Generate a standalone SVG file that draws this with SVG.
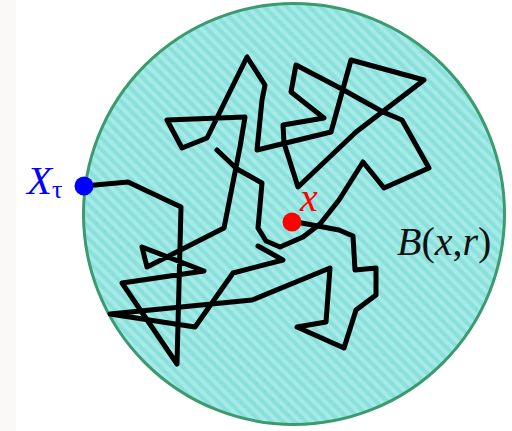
<svg xmlns="http://www.w3.org/2000/svg" width="512" height="431" viewBox="0 0 512 431">
  <defs>
    <pattern id="hatch" patternUnits="userSpaceOnUse" width="8" height="8" patternTransform="rotate(45)">
      <rect width="8" height="8" fill="#a4eae6"/>
      <rect width="8" height="4" fill="#8ce0db"/>
    </pattern>
    <style>
      .walk { fill: none; stroke: #000; stroke-width: 5; stroke-linejoin: round; stroke-linecap: round; }
      .lbl { font-family: "Liberation Serif", "Times New Roman", serif; font-style: italic; }
      .up { font-style: normal; }
    </style>
  </defs>
  <rect x="0" y="0" width="512" height="431" fill="#ffffff"/>
  <rect x="0" y="0" width="16" height="431" fill="#faf9f7"/>

  <g id="ball">
    <circle cx="294" cy="214" r="210.5" fill="url(#hatch)" stroke="#3b9a6e" stroke-width="3"/>
  </g>

  <g id="connectors">
    <path class="walk" d="M291,221 L339,230 L353,236 L355,270 L376,268 L376,295 L356,310 L344,348 L297,327 L326,322 L330,268 L252,300 L110,314 L195,327 L233,273 L283,260 L258,246"/>
    <path class="walk" d="M217,150 L237,169 L262,183 L258,228 L266,241 L280,247 L303,237 L320,224 L339,200 L363,162 L384,188 L429,168 L402,120 L383,112 L340,88 L296,65 L291,92 L324,118 L283,125 L284,143 L298,187 L356,132 L424,80 L351,60 L331,132 L257,150 L262,100 L265,85 L247,57 L207,138 L182,148 L167,120 L245,117 L240,147 L224,228 L147,267 L142,247 L204,271 L122,283 L177,364 L181,207 L128,182 L84,186"/>
  </g>

  <g id="start-x">
    <circle cx="292" cy="222" r="9.5" fill="#ff0000"/>
    <text class="lbl" x="300" y="211" font-size="40" fill="#ff0000">x</text>
  </g>

  <g id="exit-X">
    <circle cx="84" cy="186" r="9.5" fill="#0000ff"/>
    <text class="lbl" x="27" y="194" font-size="41" fill="#0000ff">X<tspan class="up" font-size="26" dy="4">τ</tspan></text>
  </g>

  <g id="ball-label">
    <text class="lbl" x="397" y="255" font-size="40" fill="#111">B<tspan class="up">(</tspan>x<tspan class="up">,</tspan>r<tspan class="up">)</tspan></text>
  </g>
</svg>
